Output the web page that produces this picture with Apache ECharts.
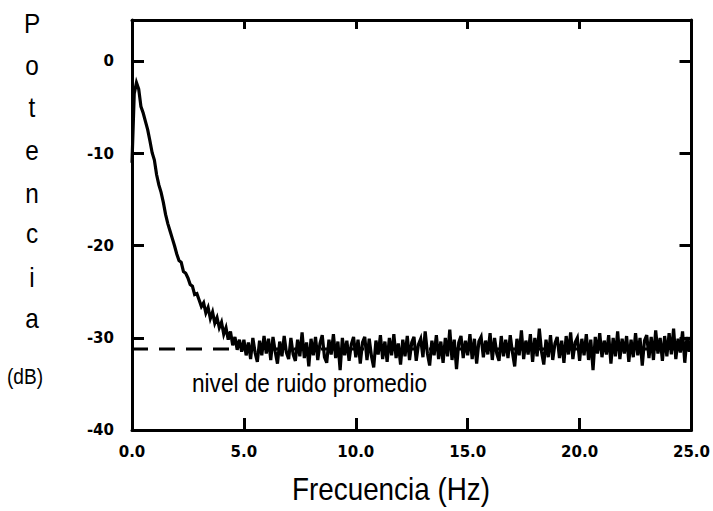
<!DOCTYPE html>
<html><head><meta charset="utf-8">
<script src="https://cdn.jsdelivr.net/npm/echarts@6/dist/echarts.min.js"></script>
<style>html,body{margin:0;padding:0;background:#fff}#c{width:713px;height:511px}</style>
</head><body><div id="c"></div>
<script>
// Frequency grid (Hz): samples every 0.1 Hz
const freqStart = 0.0;
const freqStep = 0.1;
// Power (dB), 0.0 – 4.9 Hz
const powerDecay = [
  -11.0, -3.5, -2.3, -3.0, -4.9, -5.6, -6.5, -7.4, -8.6, -9.9,
  -10.7, -12.3, -13.4, -14.2, -15.3, -16.6, -17.6, -18.4, -19.2, -20.0,
  -20.9, -21.6, -21.8, -22.8, -23.0, -23.5, -24.2, -24.4, -25.3, -25.2,
  -25.9, -26.6, -26.2, -27.3, -26.7, -27.9, -27.2, -28.4, -27.8, -28.9,
  -28.3, -29.6, -28.9, -30.2, -29.3, -30.8, -29.9, -31.3, -30.2, -31.5
];
// Power (dB), 5.0 – 25.0 Hz
const powerNoise = [
  -30.2, -31.9, -30.5, -32.3, -30.0, -31.6, -32.6, -30.3, -31.9, -29.8,
  -31.7, -30.1, -32.4, -29.9, -31.5, -32.8, -30.4, -32.0, -29.8, -31.6,
  -32.3, -30.0, -31.8, -32.5, -30.2, -32.0, -29.4, -32.2, -30.5, -33.1,
  -30.1, -31.9, -29.9, -32.4, -30.6, -29.7, -32.1, -32.7, -30.2, -31.8,
  -29.6, -32.2, -30.4, -33.5, -30.0, -31.9, -30.3, -32.5, -30.7, -29.9,
  -32.1, -30.2, -32.8, -30.5, -29.9, -32.4, -30.1, -32.0, -33.2, -30.3,
  -31.8, -29.7, -32.3, -30.4, -32.6, -30.0, -31.9, -29.6, -32.2, -30.6,
  -32.9, -30.2, -32.0, -29.8, -32.4, -30.5, -29.9, -32.5, -30.7, -30.1,
  -32.1, -29.3, -31.7, -33.0, -30.3, -31.9, -29.7, -32.3, -30.4, -32.7,
  -30.0, -32.0, -29.1, -32.4, -30.2, -33.4, -30.5, -29.8, -32.2, -30.3,
  -31.9, -29.6, -32.3, -30.1, -32.8, -30.4, -29.9, -32.1, -30.3, -31.8,
  -29.5, -32.4, -30.0, -31.7, -32.5, -29.8, -32.0, -30.2, -32.2, -29.7,
  -31.6, -33.1, -30.1, -31.9, -29.2, -32.3, -30.3, -31.8, -29.6, -32.6,
  -30.0, -32.0, -29.0, -31.5, -32.9, -30.2, -32.1, -29.7, -32.4, -30.6,
  -29.9, -32.2, -30.3, -32.7, -29.8, -31.8, -29.4, -32.3, -30.5, -30.0,
  -32.5, -30.1, -31.9, -29.6, -32.4, -30.2, -33.5, -29.9, -31.7, -29.5,
  -32.1, -30.3, -31.8, -29.7, -32.8, -30.0, -32.0, -29.3, -32.3, -30.1,
  -31.7, -29.8, -32.6, -30.2, -32.1, -29.5, -31.9, -30.0, -33.0, -30.3,
  -29.7, -32.2, -29.9, -32.4, -29.2, -31.7, -30.0, -32.5, -29.8, -32.0,
  -29.5, -31.8, -29.0, -32.3, -30.1, -31.6, -29.3, -32.7, -29.9, -31.5,
  -29.8
];
const noiseLevel = -31.2;            // nivel de ruido promedio (dB)
const xTickLabels = ['0.0', '5.0', '10.0', '15.0', '20.0', '25.0'];
const yTickValues = [-40, -30, -20, -10, 0];
const yTitleLetters = ['P', 'o', 't', 'e', 'n', 'c', 'i', 'a'];
const yTitleUnit = '(dB)';
const xTitle = 'Frecuencia (Hz)';
const noiseText = 'nivel de ruido promedio';

const spectrum = powerDecay.concat(powerNoise).map((v, i) =>
  [+(freqStart + i * freqStep).toFixed(1), v]);

const chart = echarts.init(document.getElementById('c'), null, {renderer: 'svg'});
const axisLine = {show: true, onZero: false, lineStyle: {color: '#000', width: 3}};
const axisTick = {show: true, inside: true, length: 12, lineStyle: {color: '#000', width: 3}};
const tickFont = {fontFamily: 'DejaVu Sans', fontWeight: 'bold', fontSize: 15, color: '#000'};
const titleFont = 'Liberation Sans';

const graphics = [];
const letterBase = [33, 75, 117, 160, 203, 243, 287, 328];
yTitleLetters.forEach((ch, i) => {
  graphics.push({type: 'text', x: 32, y: letterBase[i] - 10, scaleX: 0.87,
    style: {text: ch, fontFamily: titleFont, fontSize: 28, fill: '#000',
      textAlign: 'center', textVerticalAlign: 'middle'}});
});
graphics.push({type: 'text', x: 25, y: 376, scaleX: 0.87,
  style: {text: yTitleUnit, fontFamily: titleFont, fontSize: 22, fill: '#000',
    textAlign: 'center', textVerticalAlign: 'middle'}});
graphics.push({type: 'text', x: 292, y: 489, scaleX: 0.87,
  style: {text: xTitle, fontFamily: titleFont, fontSize: 32, fill: '#000',
    textAlign: 'left', textVerticalAlign: 'middle'}});
graphics.push({type: 'text', x: 192, y: 383, scaleX: 0.87,
  style: {text: noiseText, fontFamily: titleFont, fontSize: 26, fill: '#000',
    textAlign: 'left', textVerticalAlign: 'middle'}});

chart.setOption({
  animation: false,
  backgroundColor: '#fff',
  grid: {left: 132, right: 21, top: 20, bottom: 81, containLabel: false},
  xAxis: [
    {type: 'value', min: 0, max: 25, interval: 5, position: 'bottom',
      axisLine, axisTick, splitLine: {show: false},
      axisLabel: Object.assign({margin: 14, formatter: v => xTickLabels[Math.round(v / 5)] || ''}, tickFont)},
    {type: 'value', min: 0, max: 25, interval: 5, position: 'top',
      axisLine, axisTick: Object.assign({}, axisTick, {length: 9}), splitLine: {show: false},
      axisLabel: {show: false}}
  ],
  yAxis: [
    {type: 'value', min: -40, max: 4.5, interval: 10, position: 'left',
      axisLine, axisTick, splitLine: {show: false},
      axisLabel: Object.assign({margin: 18,
        formatter: v => yTickValues.indexOf(v) >= 0 ? String(v) : ''}, tickFont)},
    {type: 'value', min: -40, max: 4.5, interval: 10, position: 'right',
      axisLine, axisTick, splitLine: {show: false}, axisLabel: {show: false}}
  ],
  graphic: graphics,
  series: [
    {type: 'line', xAxisIndex: 0, yAxisIndex: 0, data: [[0, noiseLevel], [25, noiseLevel]],
      showSymbol: false, symbol: 'none', z: 1,
      lineStyle: {color: '#000', width: 3, type: [16, 11]}},
    {type: 'line', xAxisIndex: 0, yAxisIndex: 0, data: spectrum,
      showSymbol: false, symbol: 'none', z: 2,
      lineStyle: {color: '#000', width: 3.2, join: 'miter'}}
  ]
});
</script></body></html>
